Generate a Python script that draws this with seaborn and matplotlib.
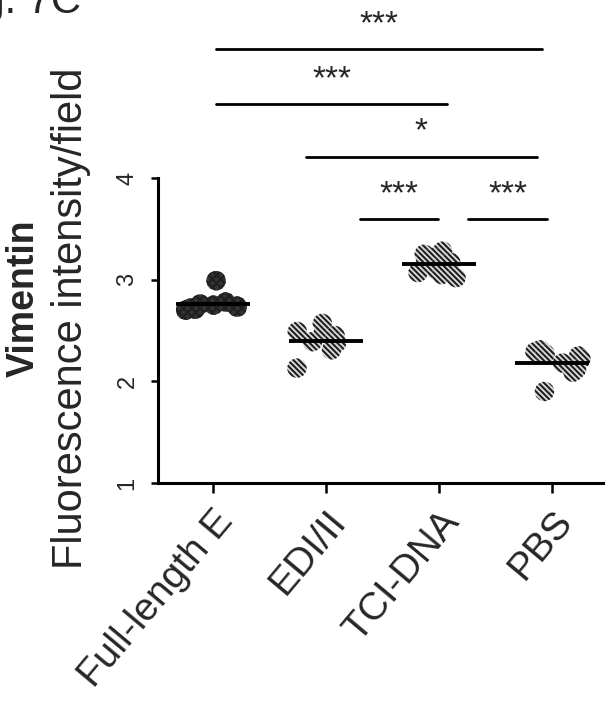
import numpy as np
import pandas as pd
import matplotlib
matplotlib.use("Agg")
import matplotlib.pyplot as plt
import seaborn as sns

# ---- data ----
groups = ["Full-length E", "EDI/II", "TCI-DNA", "PBS"]
full_length_e = [2.99, 2.78, 2.76, 2.75, 2.74, 2.73, 2.72, 2.71, 2.70]
edi_ii = [2.57, 2.49, 2.48, 2.45, 2.39, 2.38, 2.31, 2.13]
tci_dna = [3.28, 3.25, 3.22, 3.20, 3.17, 3.10, 3.07, 3.05, 3.02]
pbs = [2.31, 2.29, 2.27, 2.25, 2.22, 2.18, 2.12, 2.09, 1.90]
y_ticks = [1, 2, 3, 4]
# significance comparisons: (x start, x end, height, label)
sig_x0 = [0.03, 0.03, 0.82, 1.30, 2.26]
sig_x1 = [2.91, 2.07, 2.87, 1.99, 2.96]
sig_y = [5.27, 4.73, 4.21, 3.60, 3.60]
sig_labels = ["***", "***", "*", "***", "***"]

sns.set_theme(style="white")
plt.rcParams["font.family"] = ["Liberation Sans", "DejaVu Sans"]
plt.rcParams["hatch.linewidth"] = 1.5

values = [full_length_e, edi_ii, tci_dna, pbs]
df = pd.DataFrame({
    "group": np.concatenate([[g] * len(v) for g, v in zip(groups, values)]),
    "value": np.concatenate(values),
})

fig = plt.figure(figsize=(6.05, 7.04), dpi=100)
ax = fig.add_axes([158 / 605, 1 - 483 / 704, 1 - 158 / 605, (483 - 178) / 704])

np.random.seed(3)
sns.stripplot(data=df, x="group", y="value", hue="group", order=groups,
              hue_order=groups, palette=["#333333", "#dddddd", "#dddddd", "#dddddd"],
              jitter=0.27, size=14, linewidth=0, legend=False, ax=ax)
for i, coll in enumerate(ax.collections):
    if i == 0:
        coll.set_hatch("xxxx")
    else:
        coll.set_hatch("\\\\\\\\\\\\")

means = df.groupby("group")["value"].mean().reindex(groups)
for i, m in enumerate(means):
    ax.hlines(m, i - 0.33, i + 0.33, color="black", lw=2.8, zorder=5)

ax.set_xlim(-0.487, 3.47)
ax.set_ylim(1, 4)
ax.set_yticks(y_ticks)
ax.set_yticklabels([str(t) for t in y_ticks], rotation=90, va="center", fontsize=17)
ax.set_xticks(range(len(groups)))
ax.set_xticklabels(groups, rotation=50, ha="right", rotation_mode="anchor", fontsize=28)
ax.tick_params(axis="x", length=7, width=1.8, direction="out", pad=8, color="black", bottom=True)
ax.tick_params(axis="y", length=5, width=1.8, direction="out", pad=9, color="black", left=True)
ax.set_xlabel("")
ax.set_ylabel("")
for s in ["top", "right"]:
    ax.spines[s].set_visible(False)
for s in ["left", "bottom"]:
    ax.spines[s].set_color("black")
    ax.spines[s].set_linewidth(2.2)

for x0, x1, y, lab in zip(sig_x0, sig_x1, sig_y, sig_labels):
    ax.plot([x0, x1], [y, y], color="black", lw=2, clip_on=False)
    ax.text((x0 + x1) / 2, y + 0.24, lab, ha="center", va="center",
            fontsize=24, clip_on=False)

fig.text(24 / 605, 1 - 298 / 704, "Vimentin", rotation=90, ha="center", va="center",
         fontsize=27, fontweight="bold")
fig.text(71 / 605, 1 - 318 / 704, "Fluorescence intensity/field", rotation=90,
         ha="center", va="center", fontsize=30)
fig.text(-53 / 605, 1 - 13 / 704, "Fig. 7C", ha="left", va="baseline", fontsize=30)

fig.savefig("out.png", dpi=100)
